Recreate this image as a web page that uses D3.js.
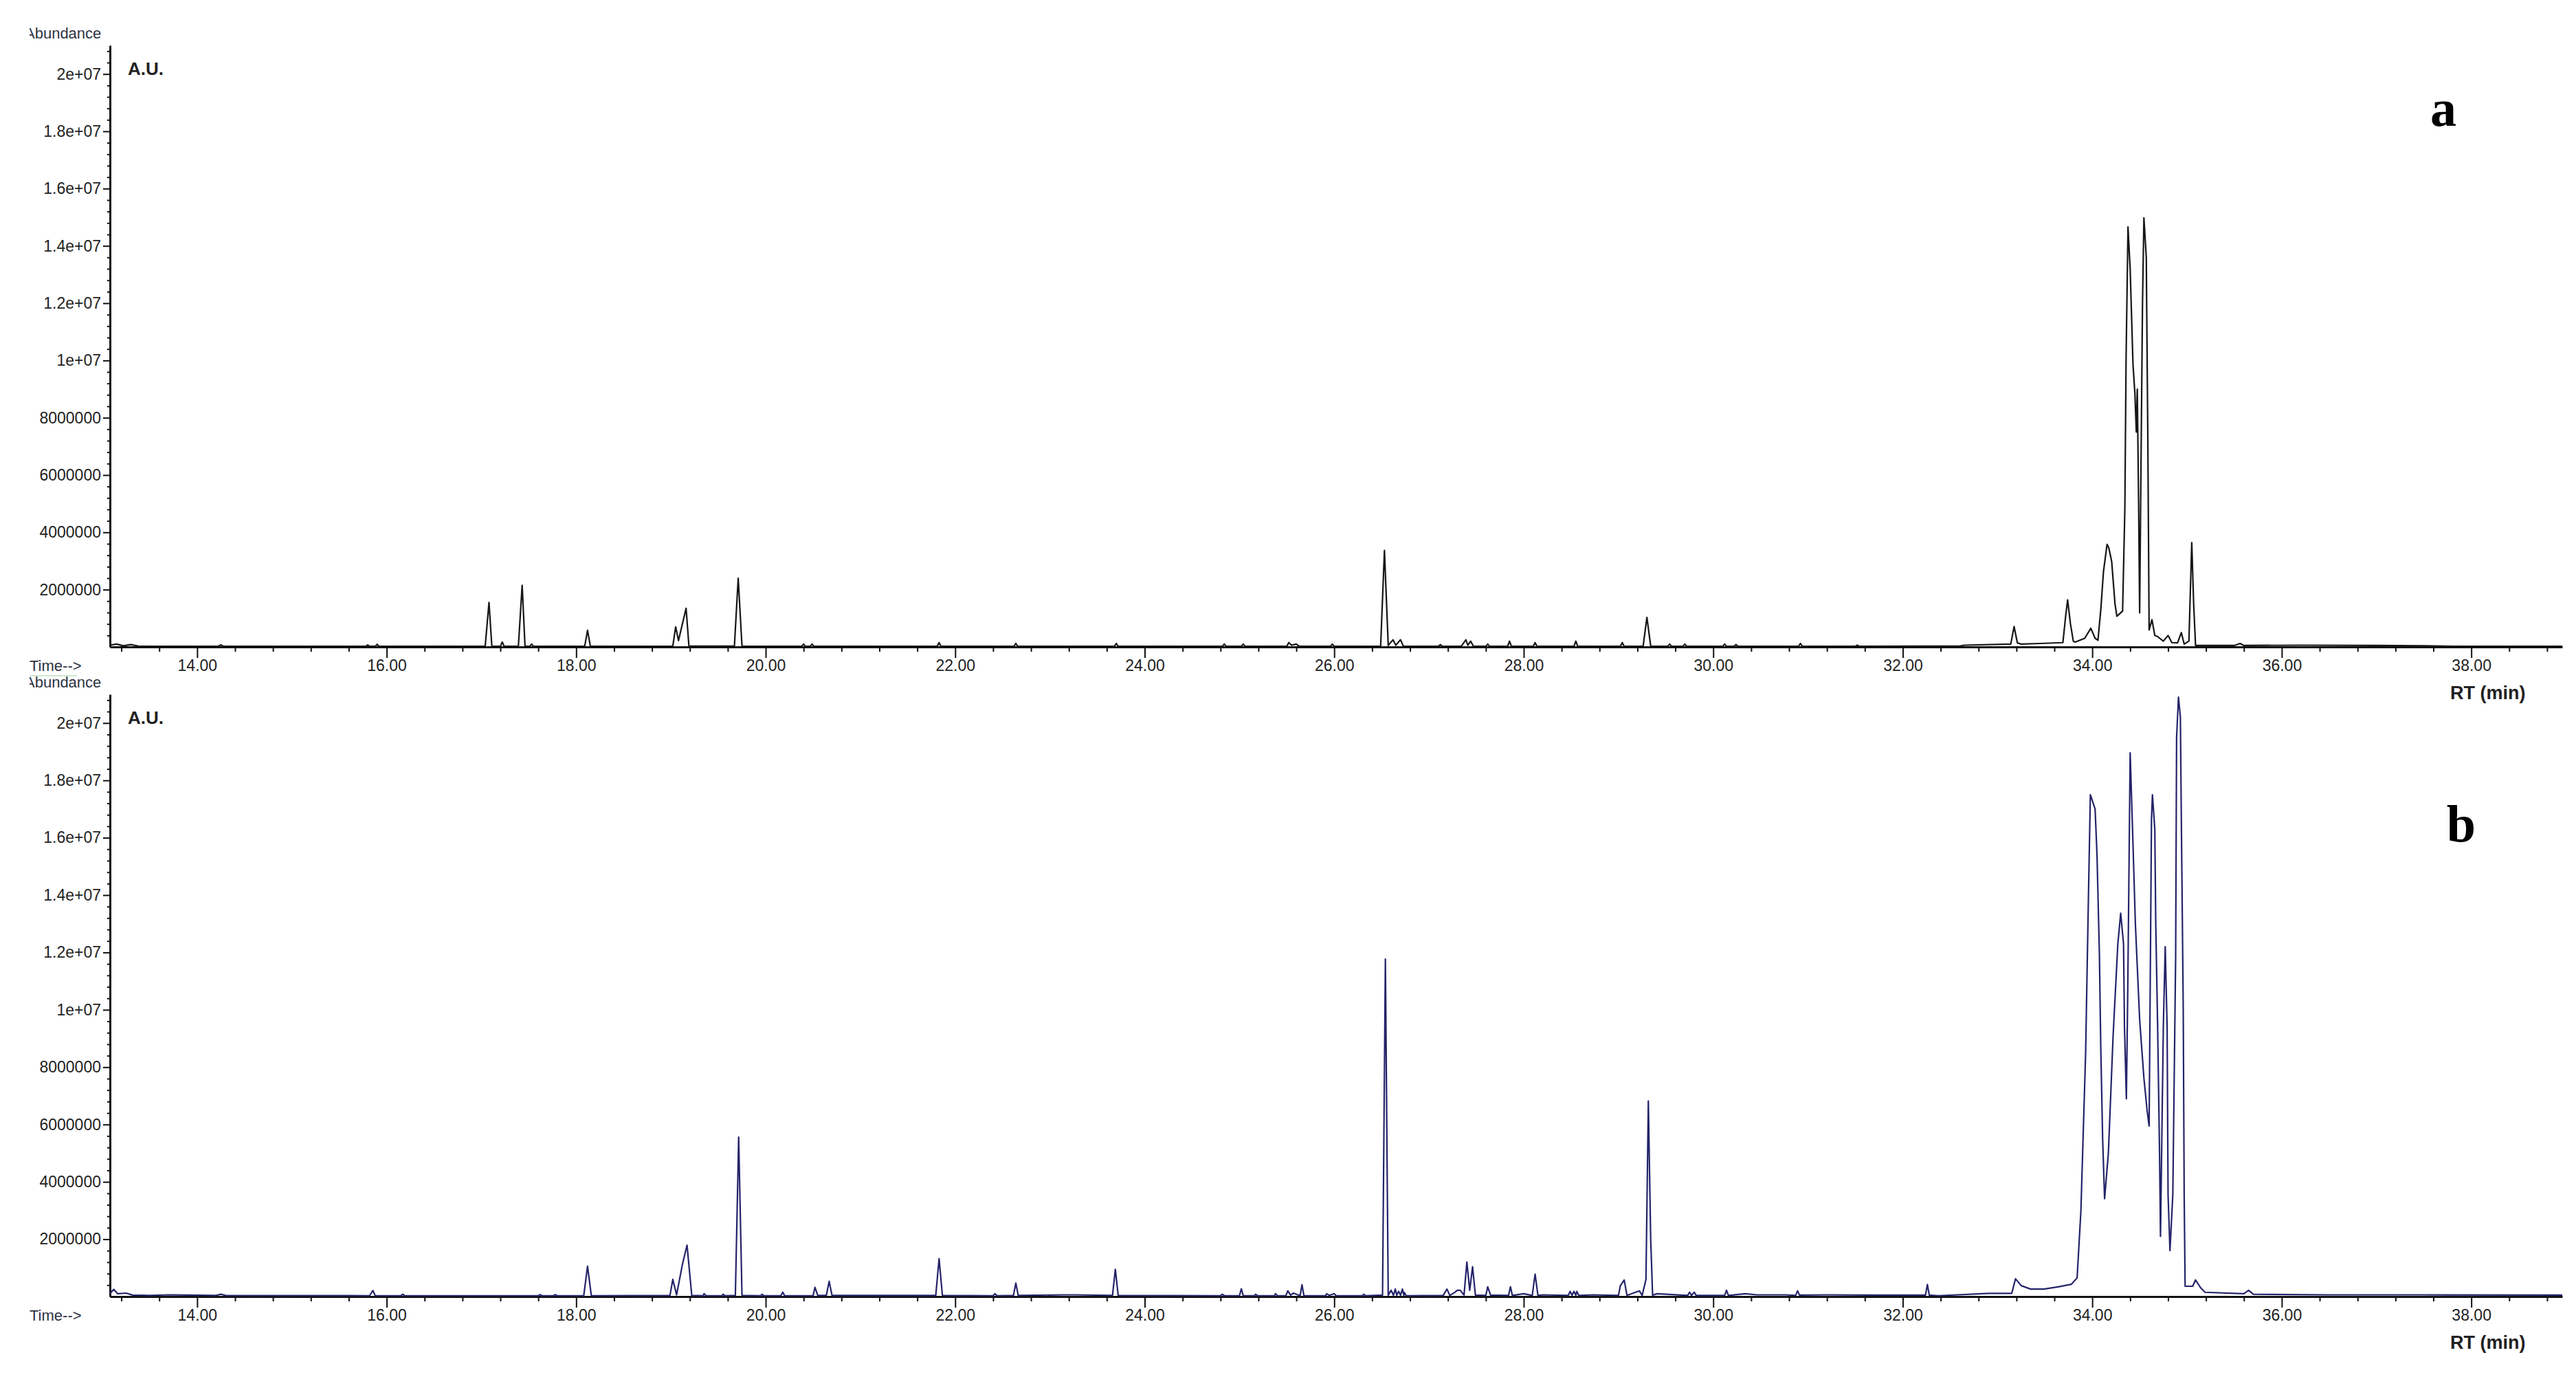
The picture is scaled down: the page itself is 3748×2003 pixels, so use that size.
<!DOCTYPE html>
<html>
<head>
<meta charset="utf-8">
<script src="https://cdn.jsdelivr.net/npm/d3@7"></script>
<style>
  body { margin: 0; background: #fff; }
  svg { display: block; }
</style>
</head>
<body>
<svg id="chart"></svg>
<script>
// x ticks (RT, min) and y ticks (abundance)
const xTicks = [14, 16, 18, 20, 22, 24, 26, 28, 30, 32, 34, 36, 38];
const yTicks = [2e6, 4e6, 6e6, 8e6, 1e7, 1.2e7, 1.4e7, 1.6e7, 1.8e7, 2e7];
const yTickLabels = ["2000000", "4000000", "6000000", "8000000", "1e+07", "1.2e+07", "1.4e+07", "1.6e+07", "1.8e+07", "2e+07"];

// chromatogram a: [RT min, abundance in millions]
const traceA = [
  [13.08,0.06],[13.15,0.1],[13.22,0.04],[13.3,0.08],[13.38,0.03],[13.6,0.02],
  [14.22,0.02],[14.25,0.07],[14.28,0.02],
  [15.78,0.02],[15.8,0.07],[15.82,0.02],[15.88,0.02],[15.9,0.09],[15.92,0.02],
  [17.04,0.02],[17.08,1.55],[17.11,0.03],[17.2,0.02],[17.22,0.17],[17.24,0.02],
  [17.39,0.02],[17.43,2.15],[17.46,0.03],[17.51,0.02],[17.53,0.1],[17.55,0.02],
  [18.09,0.02],[18.12,0.58],[18.15,0.02],
  [19.02,0.03],[19.05,0.7],[19.08,0.22],[19.16,1.35],[19.19,0.03],
  [19.67,0.03],[19.71,2.4],[19.75,0.03],
  [20.38,0.02],[20.4,0.1],[20.42,0.02],[20.47,0.02],[20.49,0.1],[20.51,0.02],
  [21.81,0.02],[21.83,0.15],[21.85,0.02],
  [22.62,0.02],[22.64,0.12],[22.66,0.02],
  [23.68,0.02],[23.7,0.12],[23.72,0.02],
  [24.82,0.02],[24.84,0.1],[24.86,0.02],[25.02,0.02],[25.04,0.1],[25.06,0.02],
  [25.5,0.02],[25.52,0.15],[25.55,0.06],[25.6,0.1],[25.63,0.02],
  [25.96,0.02],[25.98,0.1],[26.0,0.02],
  [26.49,0.03],[26.53,3.37],[26.57,0.05],[26.62,0.25],[26.65,0.06],[26.7,0.25],[26.73,0.02],
  [27.1,0.02],[27.12,0.08],[27.14,0.02],
  [27.34,0.02],[27.39,0.25],[27.41,0.06],[27.44,0.2],[27.47,0.02],
  [27.6,0.02],[27.62,0.1],[27.64,0.02],
  [27.83,0.02],[27.85,0.2],[27.87,0.02],
  [28.1,0.02],[28.12,0.15],[28.14,0.02],
  [28.53,0.02],[28.55,0.2],[28.57,0.02],
  [29.02,0.02],[29.04,0.15],[29.06,0.02],
  [29.26,0.03],[29.3,1.03],[29.34,0.03],
  [29.52,0.02],[29.54,0.1],[29.56,0.02],[29.68,0.02],[29.7,0.1],[29.72,0.02],
  [30.1,0.02],[30.12,0.1],[30.14,0.02],[30.22,0.02],[30.24,0.08],[30.26,0.02],
  [30.9,0.02],[30.92,0.12],[30.94,0.02],
  [31.5,0.02],[31.52,0.06],[31.54,0.02],
  [32.6,0.03],[32.65,0.06],[33.14,0.1],[33.175,0.71],[33.21,0.14],[33.25,0.1],[33.45,0.12],
  [33.69,0.15],[33.72,1.1],[33.74,1.64],[33.77,0.8],[33.8,0.2],[33.82,0.17],[33.92,0.3],
  [33.985,0.65],[34.03,0.3],[34.06,0.23],[34.09,1.3],[34.118,2.62],[34.156,3.58],[34.175,3.45],
  [34.205,2.98],[34.24,1.5],[34.26,1.07],[34.32,1.25],[34.344,4.83],[34.357,10.09],[34.377,14.66],
  [34.4,13.19],[34.43,9.85],[34.45,8.84],[34.465,7.5],[34.475,9.0],[34.49,4.8],[34.5,1.19],
  [34.53,11.94],[34.545,14.98],[34.57,13.61],[34.587,7.04],[34.6,0.59],[34.63,0.95],[34.66,0.4],
  [34.69,0.36],[34.75,0.2],[34.8,0.4],[34.84,0.15],[34.9,0.14],[34.94,0.5],[34.97,0.1],
  [35.02,0.2],[35.04,2.5],[35.05,3.64],[35.07,1.5],[35.09,0.05],[35.5,0.05],[35.56,0.12],
  [35.6,0.05],[36.2,0.06],[37.0,0.05],[37.5,0.04],[37.8,0.02],[38.96,0.02]
];

// chromatogram b: [RT min, abundance in millions]
const traceB = [
  [13.08,0.1],[13.12,0.25],[13.16,0.1],[13.25,0.12],[13.32,0.05],[13.5,0.04],[13.7,0.06],
  [14.2,0.04],[14.25,0.08],[14.3,0.04],
  [15.82,0.03],[15.854,0.21],[15.88,0.03],[16.15,0.03],[16.17,0.08],[16.19,0.03],
  [17.6,0.03],[17.62,0.07],[17.64,0.03],[17.76,0.03],[17.78,0.07],[17.8,0.03],
  [18.08,0.03],[18.12,1.06],[18.16,0.03],
  [18.99,0.04],[19.02,0.6],[19.06,0.06],[19.12,1.1],[19.17,1.79],[19.22,0.04],
  [19.34,0.03],[19.35,0.1],[19.37,0.03],[19.54,0.03],[19.55,0.08],[19.57,0.03],
  [19.68,0.04],[19.715,5.56],[19.75,0.04],
  [19.95,0.03],[19.96,0.08],[19.98,0.03],[20.16,0.03],[20.18,0.15],[20.2,0.03],
  [20.5,0.03],[20.52,0.32],[20.55,0.04],[20.64,0.04],[20.67,0.53],[20.7,0.04],
  [21.795,0.04],[21.83,1.32],[21.865,0.04],
  [22.4,0.03],[22.42,0.1],[22.44,0.03],
  [22.615,0.04],[22.64,0.47],[22.665,0.04],
  [23.13,0.06],[23.28,0.06],
  [23.66,0.04],[23.69,0.95],[23.72,0.04],
  [24.8,0.03],[24.82,0.08],[24.84,0.03],[25.0,0.03],[25.02,0.27],[25.04,0.03],
  [25.16,0.03],[25.17,0.08],[25.19,0.03],[25.37,0.03],[25.38,0.1],[25.4,0.03],
  [25.49,0.03],[25.51,0.2],[25.54,0.05],[25.57,0.12],[25.64,0.03],[25.66,0.41],[25.68,0.03],
  [25.91,0.03],[25.92,0.1],[25.95,0.04],[26.0,0.1],[26.02,0.03],[26.3,0.03],[26.31,0.08],[26.33,0.03],
  [26.51,0.05],[26.54,11.77],[26.57,0.05],
  [26.6,0.22],[26.625,0.05],[26.645,0.26],[26.66,0.05],[26.68,0.18],[26.7,0.05],[26.72,0.26],
  [26.735,0.04],[26.74,0.14],[26.76,0.03],
  [27.15,0.04],[27.19,0.26],[27.22,0.04],[27.27,0.14],[27.3,0.22],[27.33,0.22],[27.37,0.05],
  [27.4,1.2],[27.43,0.22],[27.46,1.04],[27.49,0.05],
  [27.6,0.04],[27.62,0.34],[27.65,0.05],[27.84,0.04],[27.86,0.34],[27.88,0.04],
  [28.0,0.1],[28.09,0.04],[28.12,0.78],[28.15,0.04],[28.2,0.06],
  [28.47,0.04],[28.49,0.18],[28.51,0.05],[28.53,0.18],[28.55,0.05],[28.56,0.18],[28.58,0.04],[28.73,0.06],
  [29.0,0.04],[29.02,0.38],[29.06,0.58],[29.09,0.04],[29.22,0.2],[29.25,0.04],
  [29.29,0.6],[29.315,6.82],[29.34,2.0],[29.36,0.05],[29.41,0.1],
  [29.73,0.04],[29.75,0.15],[29.77,0.04],[29.8,0.15],[29.82,0.04],
  [30.12,0.04],[30.14,0.22],[30.16,0.04],[30.34,0.1],[30.46,0.06],[30.65,0.06],[30.77,0.06],
  [30.87,0.04],[30.89,0.2],[30.91,0.05],[31.21,0.06],[31.65,0.05],[32.23,0.05],
  [32.24,0.05],[32.26,0.42],[32.28,0.05],[32.375,0.03],[32.91,0.11],[33.15,0.11],
  [33.19,0.62],[33.25,0.38],[33.35,0.26],[33.49,0.26],[33.64,0.34],[33.78,0.43],[33.84,0.65],
  [33.88,2.98],[33.93,8.5],[33.96,14.0],[33.98,17.5],[34.03,17.0],[34.05,15.4],[34.075,12.0],
  [34.09,8.65],[34.11,5.45],[34.13,3.41],
  [34.17,5.0],[34.22,9.1],[34.27,12.3],[34.3,13.37],[34.33,12.3],[34.34,9.4],[34.36,6.9],
  [34.375,10.8],[34.4,18.96],[34.425,16.3],[34.455,13.0],[34.5,9.66],[34.545,7.62],[34.58,6.46],[34.6,5.95],
  [34.615,12.3],[34.625,16.65],[34.635,17.5],[34.66,16.3],[34.67,13.0],[34.69,9.4],[34.71,5.0],[34.72,2.1],
  [34.75,9.4],[34.77,12.2],[34.79,9.4],[34.8,3.55],[34.82,1.6],
  [34.85,3.55],[34.88,11.85],[34.89,19.5],[34.91,20.9],[34.93,20.2],[34.94,16.65],[34.96,10.1],
  [34.97,3.55],[34.98,0.36],
  [35.06,0.36],[35.09,0.58],[35.145,0.3],[35.19,0.15],[35.6,0.1],[35.65,0.22],[35.7,0.08],
  [36.5,0.06],[37.5,0.06],[38.96,0.05]
];

const W = 3748, H = 2003;
const font = "'Liberation Sans', Arial, sans-serif";

const svg = d3.select("#chart").attr("width", W).attr("height", H);
svg.append("rect").attr("width", W).attr("height", H).attr("fill", "#fff");

const defs = svg.append("defs");
defs.append("clipPath").attr("id", "leftclip")
  .append("rect").attr("x", 43).attr("y", 0).attr("width", 300).attr("height", H);

const x = d3.scaleLinear().domain([13.08, 38.96]).range([160, 3728]);

const xMinor = d3.range(13.2, 38.9, 0.4).filter(v => Math.abs(v / 2 - Math.round(v / 2)) > 0.01);
const yMinor = d3.range(4e5, 2.09e7, 4e5).filter(v => Math.abs(v / 2e6 - Math.round(v / 2e6)) > 0.01);

const panels = [
  {data: traceA, bottom: 941, top: 66, color: "#161616", letter: "a", lx: 3555, ly: 183},
  {data: traceB, bottom: 1886, top: 1010, color: "#24246a", letter: "b", lx: 3581, ly: 1224}
];

panels.forEach(p => {
  const y = d3.scaleLinear().domain([0, 2.1e7]).range([p.bottom, p.top]);
  const g = svg.append("g");

  // labels at the left
  g.append("text").attr("x", 36).attr("y", p.top - 10)
    .attr("clip-path", "url(#leftclip)")
    .attr("font-family", font).attr("font-size", 22).attr("fill", "#2c3242")
    .text("Abundance");
  g.append("text").attr("x", 43).attr("y", p.bottom + 35)
    .attr("font-family", font).attr("font-size", 22).attr("fill", "#2c3242")
    .text("Time-->");

  // minor ticks
  g.append("g").attr("transform", `translate(0,${p.bottom})`)
    .call(d3.axisBottom(x).tickValues(xMinor).tickSize(7).tickSizeOuter(0).tickFormat(""))
    .call(s => s.select(".domain").remove())
    .selectAll("line").attr("stroke", "#111").attr("stroke-width", 2);
  g.append("g").attr("transform", `translate(160,0)`)
    .call(d3.axisLeft(y).tickValues(yMinor).tickSize(4).tickSizeOuter(0).tickFormat(""))
    .call(s => s.select(".domain").remove())
    .selectAll("line").attr("stroke", "#111").attr("stroke-width", 2);

  // x axis
  const xa = g.append("g").attr("transform", `translate(0,${p.bottom})`)
    .call(d3.axisBottom(x).tickValues(xTicks).tickSize(16).tickSizeOuter(0).tickPadding(3)
      .tickFormat(d3.format(".2f")));
  xa.select(".domain").attr("stroke", "#111").attr("stroke-width", 3);
  xa.selectAll(".tick line").attr("stroke", "#111").attr("stroke-width", 2);
  xa.selectAll("text").attr("font-family", font).attr("font-size", 23).attr("fill", "#222");

  // y axis
  const ya = g.append("g").attr("transform", `translate(160,0)`)
    .call(d3.axisLeft(y).tickValues(yTicks).tickSize(10).tickSizeOuter(0).tickPadding(3)
      .tickFormat((d, i) => yTickLabels[i]));
  ya.select(".domain").attr("stroke", "#111").attr("stroke-width", 3);
  ya.selectAll(".tick line").attr("stroke", "#111").attr("stroke-width", 2);
  ya.selectAll("text").attr("font-family", font).attr("font-size", 23).attr("fill", "#222");

  // trace
  const line = d3.line().x(d => x(d[0])).y(d => y(d[1] * 1e6));
  g.append("path").datum(p.data)
    .attr("d", line)
    .attr("fill", "none")
    .attr("stroke", p.color)
    .attr("stroke-width", 2.2)
    .attr("stroke-linejoin", "round");

  // annotations
  g.append("text").attr("x", 186).attr("y", p.top + 43)
    .attr("font-family", font).attr("font-size", 26).attr("font-weight", "bold").attr("fill", "#222")
    .text("A.U.");
  g.append("text").attr("x", 3565).attr("y", p.bottom + 76)
    .attr("font-family", font).attr("font-size", 27).attr("font-weight", "bold").attr("fill", "#222")
    .text("RT (min)");
  g.append("text").attr("x", p.lx).attr("y", p.ly).attr("text-anchor", "middle")
    .attr("font-family", "'Liberation Serif', 'Times New Roman', serif")
    .attr("font-size", 76).attr("font-weight", "bold").attr("fill", "#000")
    .text(p.letter);
});

// faint selection line under the first "Time-->"
svg.append("line").attr("x1", 43).attr("x2", 112).attr("y1", 983).attr("y2", 983)
  .attr("stroke", "#cfe8cf").attr("stroke-width", 2);
</script>
</body>
</html>
